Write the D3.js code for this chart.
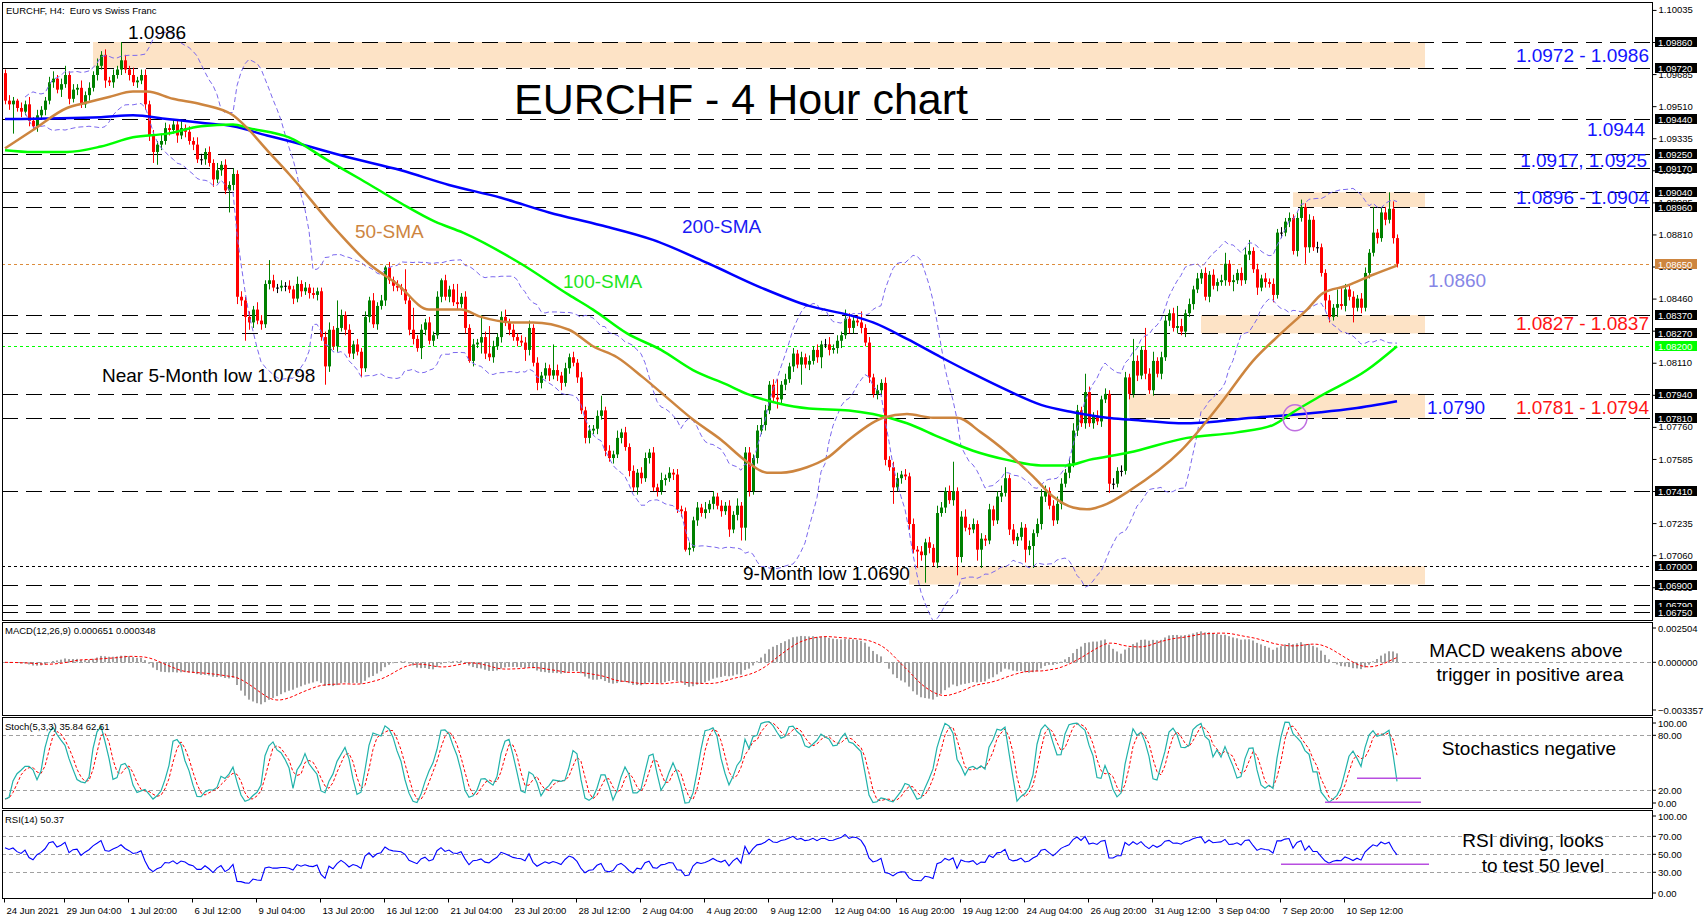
<!DOCTYPE html>
<html>
<head>
<meta charset="utf-8">
<script src="https://cdn.jsdelivr.net/npm/d3@7"></script>
<style>
  body { margin: 0; background: #fff; }
  svg { display: block; font-family: "Liberation Sans", Arial, sans-serif; }
</style>
</head>
<body>
<div id="chart"></div>
<script>
// ---------------- DATA ----------------
// EURCHF H4 closes, in 1/10000 (10954 = 1.0954); open of each bar = previous close
const firstOpen = 10969;
const closePips = [
  10954,10952,10954,10950,10948,10952,10943,10940,10946,10949,
  10954,10964,10966,10960,10963,10968,10955,10960,10961,10952,
  10957,10961,10968,10973,10979,10965,10964,10968,10971,10976,
  10971,10968,10964,10965,10968,10952,10935,10926,10930,10932,
  10939,10938,10941,10935,10939,10937,10932,10930,10922,10922,
  10926,10920,10911,10916,10919,10905,10908,10914,10847,10845,
  10836,10833,10840,10834,10832,10854,10856,10852,10852,10853,
  10853,10851,10846,10854,10850,10852,10849,10848,10850,10825,
  10809,10829,10820,10830,10837,10829,10816,10821,10817,10808,
  10836,10845,10832,10842,10845,10863,10856,10853,10852,10851,
  10845,10829,10824,10819,10829,10833,10823,10826,10847,10856,
  10847,10851,10844,10843,10847,10830,10812,10821,10822,10825,
  10816,10814,10820,10825,10836,10833,10829,10825,10823,10822,
  10818,10830,10811,10800,10804,10808,10804,10807,10804,10800,
  10808,10814,10811,10803,10785,10770,10774,10775,10782,10785,
  10763,10759,10761,10770,10773,10765,10752,10743,10751,10748,
  10759,10762,10743,10741,10747,10748,10751,10750,10731,10730,
  10709,10710,10725,10732,10729,10731,10734,10738,10733,10730,
  10733,10720,10728,10733,10721,10762,10741,10759,10774,10777,
  10785,10799,10792,10791,10799,10802,10809,10816,10810,10814,
  10810,10812,10818,10814,10821,10821,10818,10819,10823,10826,
  10835,10830,10834,10833,10830,10822,10803,10794,10796,10800,
  10758,10754,10743,10748,10750,10749,10723,10709,10708,10706,
  10713,10710,10702,10729,10732,10741,10736,10741,10705,10727,
  10721,10720,10723,10709,10715,10714,10731,10725,10738,10740,
  10748,10720,10714,10716,10721,10709,10711,10718,10723,10738,
  10741,10733,10725,10734,10745,10751,10756,10774,10785,10778,
  10795,10778,10782,10779,10791,10794,10745,10745,10752,10752,
  10803,10794,10812,10804,10818,10805,10796,10812,10805,10814,
  10834,10838,10830,10831,10828,10838,10843,10851,10857,10860,
  10847,10859,10853,10855,10856,10865,10855,10856,10860,10856,
  10870,10872,10862,10852,10857,10855,10854,10848,10882,10882,
  10888,10890,10872,10890,10896,10874,10889,10874,10874,10860,
  10845,10836,10841,10843,10842,10851,10847,10841,10846,10841,
  10860,10871,10882,10879,10893,10889,10895,10879,10865
];
// wick length above / below the body, in 1/10000
const wickUp = [
  2,3,2,1,3,2,4,2,3,2, 2,3,4,2,3,5,2,3,2,4, 2,3,2,4,2,3,2,3,2,10, 3,2,4,2,3,3,2,3,2,4,
  3,2,3,2,4,2,3,2,4,3, 2,3,2,4,2,3,2,3,2,3, 2,3,2,4,3,2,11,3,2,3, 2,3,2,4,2,3,2,3,2,2,
  3,4,2,15,3,2,3,2,3,2, 3,2,4,2,3,1,3,2,3,2, 11,3,12,2,3,2,3,2,3,1, 3,2,3,10,2,3,2,3,2,12,
  3,15,3,2,3,4,2,3,2,3, 3,4,2,3,2,3,2,14,3,2, 3,2,3,2,3,2,3,2,3,8, 2,3,2,4,2,3,2,3,2,3,
  3,2,3,2,4,2,3,2,3,2, 2,3,2,3,2,4,2,3,2,3, 2,3,2,4,2,3,3,2,3,4, 3,2,3,10,2,3,2,3,2,3,
  2,3,2,3,2,3,4,2,3,2, 5,3,2,3,6,2,3,2,3,2, 3,2,3,3,2,3,2,3,2,3, 2,3,2,4,3,2,3,16,2,3,
  4,2,3,2,3,2,3,2,3,4, 6,2,3,2,3,2,3,2,3,4, 3,2,3,4,3,2,3,4,3,2, 10,3,2,3,2,3,2,3,2,3,
  3,2,12,3,2,12,3,5,2,3, 3,2,3,11,4,2,3,2,3,2, 3,2,3,2,3,6,2,3,2,3, 4,6,2,3,2,3,2,3,2,3,
  2,3,2,3,4,2,3,2,3,2, 2,3,2,8,9,3,2,3,2,3, 3,2,14,2,3,3,9,4,2
];
const wickDn = [
  2,3,16,2,3,2,3,2,3,2, 3,2,3,2,4,2,3,2,3,2, 2,3,2,3,2,4,2,3,2,3, 2,3,2,3,2,3,3,6,7,3,
  2,3,2,4,2,3,2,3,2,3, 3,2,4,2,3,2,12,3,4,3, 13,4,3,2,3,2,3,2,3,2, 3,2,3,2,3,2,3,2,3,2,
  10,3,2,3,2,3,2,3,2,5, 2,3,2,3,2,3,2,3,2,3, 2,3,3,2,6,3,2,3,2,3, 2,3,2,3,2,3,1,3,2,6,
  3,2,3,2,3,2,3,2,3,2, 6,3,2,4,3,2,3,2,3,4, 2,3,2,3,2,3,3,2,3,2, 3,2,3,2,3,2,3,2,4,3,
  2,3,2,3,2,3,2,3,2,3, 1,3,2,3,2,3,2,3,2,3, 2,4,2,3,7,7,3,2,3,2, 3,2,3,5,2,3,2,3,2,11,
  2,3,2,3,6,2,3,2,3,4, 2,3,3,2,3,2,3,2,3,2, 3,2,9,2,3,2,3,2,9,3, 15,3,2,3,2,3,2,3,10,3,
  2,3,2,6,10,3,2,3,2,3, 2,3,2,3,2,7,3,12,2,3, 3,2,3,2,3,2,3,2,3,2, 3,2,3,2,3,2,5,3,2,3,
  2,3,2,3,2,3,2,3,2,3, 2,3,2,3,2,3,2,3,2,3, 2,3,2,3,2,3,2,5,2,3, 2,3,2,4,2,3,2,4,2,3,
  2,3,2,3,2,9,3,2,3,2, 5,3,2,5,2,3,2,8,2,3, 2,3,2,3,2,3,2,3,2
];

// moving averages: [bar index, price in 1/10000]
const sma50 = [[0,10928],[7,10938],[15.5,10950],[20.5,10953],[26,10956],[32,10959],[35.5,10959],[42,10955],[49,10952],[57,10946],[61,10938],[65.5,10927],[71,10914],[83,10883],[91,10865],[98,10854],[106,10840],[114,10840],[119,10836],[127,10833],[132,10833],[141,10829],[147,10820],[153,10814],[159.5,10803],[166,10791],[172,10780],[179,10769],[185.5,10757],[190.5,10751],[194,10751],[200.5,10754],[205.5,10759],[211,10769],[219.5,10781],[225.5,10783],[232,10781],[238,10781],[244,10773],[250.5,10762],[257,10749],[262,10738],[267,10732],[270.5,10731],[275.5,10734],[281,10741],[294,10763],[304,10789],[312,10812],[319,10827],[325.5,10840],[329.5,10849],[335.5,10853],[342,10859],[348,10864]];
const sma100 = [[0,10927],[7,10926],[15.5,10926],[24,10929],[32,10934],[40.5,10936],[49,10940],[57,10941],[61,10939],[71,10934],[81,10921],[89,10911],[99,10898],[107.5,10888],[114.5,10882],[129,10865],[141,10848],[147,10840],[155.5,10827],[164,10818],[172,10807],[180.5,10799],[185.5,10794],[193,10789],[201,10786],[211,10785],[217,10783],[225.5,10778],[234,10770],[242,10763],[250.5,10758],[259,10755],[265.5,10755],[271,10758],[281,10762],[295.5,10770],[308,10773],[317,10777],[322,10784],[329,10793],[340.5,10807],[348,10820]];
const sma200 = [[0,10944],[24,10945],[32,10946],[40.5,10944],[49,10942],[57,10940],[65.5,10935],[71,10932],[86,10923],[99,10916],[111,10908],[124,10901],[136,10893],[149,10886],[162,10878],[176,10865],[189,10852],[201,10842],[211,10837],[217,10833],[225.5,10824],[234,10814],[242,10805],[250.5,10796],[259,10788],[267,10784],[275.5,10781],[281,10780],[295.5,10778],[312,10781],[329,10784],[337,10786],[348,10790]];

// horizontal levels and zones
const dashLevels = [1.0986,1.0972,1.0944,1.0925,1.0917,1.0904,1.0896,1.0837,1.0827,1.0794,1.0781,1.0741,1.0690,1.0679,1.0675];
const dotLevels = [
  {v: 1.0700, color: "#000000"},
  {v: 1.0865, color: "#dc8c3c"},
  {v: 1.0820, color: "#00ff00"}
];
const zones = [
  {lo: 1.0972, hi: 1.0986, from: 22, to: 355},
  {lo: 1.0896, hi: 1.0904, from: 322, to: 355},
  {lo: 1.0827, hi: 1.0837, from: 299, to: 355},
  {lo: 1.0781, hi: 1.0794, from: 281, to: 355},
  {lo: 1.0690, hi: 1.0700, from: 226, to: 355}
];
const crossMark = [322.5, 1.0781];

const priceTicks = [1.10035,1.09860,1.09685,1.09510,1.09335,1.09160,1.08985,1.08810,1.08635,1.08460,1.08285,1.08110,1.07935,1.07760,1.07585,1.07410,1.07235,1.07060,1.06885];
const boxLevels = [1.0986,1.0972,1.0944,1.0925,1.0917,1.0904,1.0896,1.0837,1.0827,1.0794,1.0781,1.0741,1.0700,1.0690,1.0679,1.0675];
const colorBoxes = [{v: 1.0865, color: "#cd853f"}, {v: 1.0820, color: "#00ff00"}];

const xTickBars = [0,15,31,47,63,79,95,111,127,143,159,175,191,207,223,239,255,271,287,303,319,335];
const xTickLabels = ["24 Jun 2021","29 Jun 04:00","1 Jul 20:00","6 Jul 12:00","9 Jul 04:00","13 Jul 20:00","16 Jul 12:00","21 Jul 04:00","23 Jul 20:00","28 Jul 12:00","2 Aug 04:00","4 Aug 20:00","9 Aug 12:00","12 Aug 04:00","16 Aug 20:00","19 Aug 12:00","24 Aug 04:00","26 Aug 20:00","31 Aug 12:00","3 Sep 04:00","7 Sep 20:00","10 Sep 12:00"];

const macdTicks = [0.002504, 0, -0.003357];
const stochTicks = [100, 80, 20, 0];
const rsiTicks = [100, 70, 50, 30, 0];
const stochMarks = [{level: 33, from: 338, to: 354}, {level: 7, from: 330, to: 354}];
const rsiMarks = [{level: 39, from: 319, to: 356}];

// ---------------- DERIVED SERIES ----------------
const closes = closePips.map(v => v / 10000);
const opens = closes.map((c, i) => i === 0 ? firstOpen / 10000 : closes[i - 1]);
const highs = closes.map((c, i) => Math.max(opens[i], c) + wickUp[i] / 10000);
const lows = closes.map((c, i) => Math.min(opens[i], c) - wickDn[i] / 10000);
const bars = closes.map((c, i) => ({i, o: opens[i], h: highs[i], l: lows[i], c}));

function ema(arr, n) {
  const k = 2 / (n + 1), out = [];
  arr.forEach((v, i) => out.push(i === 0 ? v : v * k + out[i - 1] * (1 - k)));
  return out;
}
function sma(arr, n) {
  return arr.map((v, i) => d3.mean(arr.slice(Math.max(0, i - n + 1), i + 1)));
}

// bollinger 20,2
const bands = [];
closes.forEach((c, i) => {
  if (i < 5) return;
  const win = closes.slice(Math.max(0, i - 19), i + 1);
  const m = d3.mean(win);
  const sd = Math.sqrt(d3.mean(win, v => (v - m) * (v - m)));
  bands.push({i, up: m + 2 * sd, dn: m - 2 * sd});
});

// MACD 12,26,9
const e12 = ema(closes, 12), e26 = ema(closes, 26);
const macd = closes.map((c, i) => e12[i] - e26[i]);
const macdSig = sma(macd, 9);

// Stochastic 5,3,3
const ll = lows.map((v, i) => d3.min(lows.slice(Math.max(0, i - 4), i + 1)));
const hh = highs.map((v, i) => d3.max(highs.slice(Math.max(0, i - 4), i + 1)));
const stochK = closes.map((c, i) => {
  let num = 0, den = 0;
  for (let j = Math.max(0, i - 2); j <= i; j++) { num += closes[j] - ll[j]; den += hh[j] - ll[j]; }
  return den ? 100 * num / den : 50;
});
const stochD = sma(stochK, 3);

// RSI 14 (Wilder), seeded with the average move of the first 14 bars
const firstMoves = d3.range(1, 15).map(i => closes[i] - closes[i - 1]);
let ag = d3.mean(firstMoves, c => Math.max(c, 0));
let al = d3.mean(firstMoves, c => Math.max(-c, 0));
const rsi = [100 - 100 / (1 + ag / al)];
for (let i = 1; i < closes.length; i++) {
  const ch = closes[i] - closes[i - 1];
  ag = (ag * 13 + Math.max(ch, 0)) / 14;
  al = (al * 13 + Math.max(-ch, 0)) / 14;
  rsi.push(al === 0 ? 100 : 100 - 100 / (1 + ag / al));
}

// ---------------- LAYOUT ----------------
const W = 1706, H = 919;
const xL = 2, xR = 1652;
const P = {
  main:  {top: 2,   bottom: 620},
  macd:  {top: 622, bottom: 715},
  stoch: {top: 717, bottom: 808},
  rsi:   {top: 810, bottom: 898}
};

const x = d3.scaleLinear().domain([0, closes.length - 1]).range([5, 1397]);
const y = d3.scaleLinear().domain([1.0675, 1.0986]).range([612, 42]);
const yMacd = d3.scaleLinear().domain([-0.003357, 0.002504]).range([711, 626]);
const yStoch = d3.scaleLinear().domain([0, 100]).range([808.6, 717]);
const yRsi = d3.scaleLinear().domain([0, 100]).range([899.3, 809.3]);
const px = i => Math.round(x(i));

const svg = d3.select("#chart").append("svg")
  .attr("width", W).attr("height", H)
  .attr("viewBox", `0 0 ${W} ${H}`);
svg.append("rect").attr("width", W).attr("height", H).attr("fill", "#fff");

const defs = svg.append("defs");
Object.entries(P).forEach(([k, p]) => {
  defs.append("clipPath").attr("id", "clip-" + k)
    .append("rect").attr("x", xL).attr("y", p.top).attr("width", xR - xL).attr("height", p.bottom - p.top);
});

const gMain = svg.append("g").attr("clip-path", "url(#clip-main)");

// zones
gMain.selectAll(".zone").data(zones).join("rect")
  .attr("x", d => x(d.from)).attr("width", d => x(d.to) - x(d.from))
  .attr("y", d => y(d.hi)).attr("height", d => y(d.lo) - y(d.hi))
  .attr("fill", "#fde3c6");

// level lines
gMain.selectAll(".lvl").data(dashLevels).join("line")
  .attr("x1", xL).attr("x2", xR)
  .attr("y1", d => Math.round(y(d)) + 0.5).attr("y2", d => Math.round(y(d)) + 0.5)
  .attr("stroke", "#000").attr("stroke-width", 1.2).attr("stroke-dasharray", "16,8");
gMain.selectAll(".dot").data(dotLevels).join("line")
  .attr("x1", xL).attr("x2", xR)
  .attr("y1", d => Math.round(y(d.v)) + 0.5).attr("y2", d => Math.round(y(d.v)) + 0.5)
  .attr("stroke", d => d.color).attr("stroke-width", 1).attr("stroke-dasharray", "3,3");

// candles
const cg = gMain.selectAll(".candle").data(bars).join("g");
const candleColor = d => d.c > d.o ? "#008000" : (d.c < d.o ? "#ff0000" : "#000000");
cg.append("line")
  .attr("x1", d => px(d.i) + 0.5).attr("x2", d => px(d.i) + 0.5)
  .attr("y1", d => y(d.h)).attr("y2", d => y(d.l))
  .attr("stroke", candleColor).attr("stroke-width", 1);
cg.append("rect")
  .attr("x", d => px(d.i) - 1).attr("width", 3)
  .attr("y", d => y(Math.max(d.o, d.c)))
  .attr("height", d => Math.max(1, Math.abs(y(d.o) - y(d.c))))
  .attr("fill", candleColor);

// bollinger bands
["up", "dn"].forEach(k => {
  gMain.append("path").datum(bands)
    .attr("d", d3.line().x(d => x(d.i)).y(d => y(d[k])))
    .attr("fill", "none").attr("stroke", "#7b68ee").attr("stroke-width", 1)
    .attr("stroke-dasharray", "5,3");
});

// moving averages
const maLine = d3.line().x(d => x(d[0])).y(d => y(d[1] / 10000)).curve(d3.curveMonotoneX);
[[sma200, "#0000ff"], [sma100, "#00ff00"], [sma50, "#cd853f"]].forEach(([pts, col]) => {
  gMain.append("path").datum(pts).attr("d", maLine)
    .attr("fill", "none").attr("stroke", col).attr("stroke-width", 2.5);
});

// crossover circle
gMain.append("ellipse")
  .attr("cx", x(crossMark[0])).attr("cy", y(crossMark[1]))
  .attr("rx", 12).attr("ry", 13)
  .attr("fill", "none").attr("stroke", "#bf6fe0").attr("stroke-width", 1.5);

// ---------------- MACD ----------------
const gMacd = svg.append("g").attr("clip-path", "url(#clip-macd)");
gMacd.append("line").attr("x1", xL).attr("x2", xR)
  .attr("y1", Math.round(yMacd(0)) + 0.5).attr("y2", Math.round(yMacd(0)) + 0.5)
  .attr("stroke", "#a0a0a0").attr("stroke-dasharray", "4,3");
gMacd.selectAll(".hist").data(macd).join("rect")
  .attr("x", (d, i) => px(i) - 1).attr("width", 2)
  .attr("y", d => Math.min(yMacd(d), yMacd(0)))
  .attr("height", d => Math.abs(yMacd(d) - yMacd(0)))
  .attr("fill", "#a0a0a0");
gMacd.append("path").datum(macdSig)
  .attr("d", d3.line().x((d, i) => x(i)).y(d => yMacd(d)))
  .attr("fill", "none").attr("stroke", "#ff0000").attr("stroke-width", 1).attr("stroke-dasharray", "3,2");

// ---------------- STOCH ----------------
const gSt = svg.append("g").attr("clip-path", "url(#clip-stoch)");
[80, 20].forEach(v => gSt.append("line").attr("x1", xL).attr("x2", xR)
  .attr("y1", Math.round(yStoch(v)) + 0.5).attr("y2", Math.round(yStoch(v)) + 0.5)
  .attr("stroke", "#a0a0a0").attr("stroke-dasharray", "4,3"));
gSt.append("path").datum(stochD)
  .attr("d", d3.line().x((d, i) => x(i)).y(d => yStoch(d)))
  .attr("fill", "none").attr("stroke", "#ff0000").attr("stroke-width", 1).attr("stroke-dasharray", "3,2");
gSt.append("path").datum(stochK)
  .attr("d", d3.line().x((d, i) => x(i)).y(d => yStoch(d)))
  .attr("fill", "none").attr("stroke", "#20b2aa").attr("stroke-width", 1.2);
gSt.selectAll(".mk").data(stochMarks).join("line")
  .attr("x1", d => x(d.from)).attr("x2", d => x(d.to))
  .attr("y1", d => yStoch(d.level)).attr("y2", d => yStoch(d.level))
  .attr("stroke", "#b84ee0").attr("stroke-width", 1.5);

// ---------------- RSI ----------------
const gR = svg.append("g").attr("clip-path", "url(#clip-rsi)");
[70, 50, 30].forEach(v => gR.append("line").attr("x1", xL).attr("x2", xR)
  .attr("y1", Math.round(yRsi(v)) + 0.5).attr("y2", Math.round(yRsi(v)) + 0.5)
  .attr("stroke", "#a0a0a0").attr("stroke-dasharray", "4,3"));
gR.append("path").datum(rsi)
  .attr("d", d3.line().x((d, i) => x(i)).y(d => yRsi(d)))
  .attr("fill", "none").attr("stroke", "#0000ff").attr("stroke-width", 1.1);
gR.selectAll(".mk").data(rsiMarks).join("line")
  .attr("x1", d => x(d.from)).attr("x2", d => x(d.to))
  .attr("y1", d => yRsi(d.level)).attr("y2", d => yRsi(d.level))
  .attr("stroke", "#b84ee0").attr("stroke-width", 1.5);

// ---------------- FRAMES ----------------
Object.values(P).forEach(p => {
  svg.append("rect").attr("x", xL + 0.5).attr("y", p.top + 0.5)
    .attr("width", xR - xL).attr("height", p.bottom - p.top)
    .attr("fill", "none").attr("stroke", "#000").attr("stroke-width", 1);
});

// ---------------- AXES ----------------
const smallFont = "9.5px";
const yAxis = svg.append("g").attr("transform", `translate(${xR + 0.5},0)`)
  .call(d3.axisRight(y).tickValues(priceTicks).tickSize(4).tickPadding(2).tickFormat(d3.format(".5f")));
yAxis.select(".domain").remove();
yAxis.selectAll("text").style("font-size", smallFont).attr("fill", "#000");

boxLevels.forEach(v => {
  const yy = Math.round(y(v));
  svg.append("rect").attr("x", 1655).attr("y", yy - 5).attr("width", 42).attr("height", 10).attr("fill", "#000");
  svg.append("text").attr("x", 1658).attr("y", yy + 3.5).attr("fill", "#fff")
    .style("font-size", smallFont).text(v.toFixed(5));
});
colorBoxes.forEach(b => {
  const yy = Math.round(y(b.v));
  svg.append("rect").attr("x", 1655).attr("y", yy - 5).attr("width", 42).attr("height", 10).attr("fill", b.color);
  svg.append("text").attr("x", 1658).attr("y", yy + 3.5).attr("fill", "#fff")
    .style("font-size", smallFont).text(b.v.toFixed(5));
});

function sideLabels(ticks, scale, p, fmt) {
  ticks.forEach(v => {
    const yy = Math.max(p.top + 6, Math.min(p.bottom - 5, scale(v)));
    svg.append("line").attr("x1", xR).attr("x2", xR + 4).attr("y1", yy).attr("y2", yy).attr("stroke", "#000");
    svg.append("text").attr("x", xR + 6).attr("y", yy + 3.5).style("font-size", smallFont).text(fmt(v));
  });
}
sideLabels(macdTicks, yMacd, P.macd, d3.format(".6f"));
sideLabels(stochTicks, yStoch, P.stoch, d3.format(".2f"));
sideLabels(rsiTicks, yRsi, P.rsi, d3.format(".2f"));

// time axis
const xAxis = svg.append("g").attr("transform", `translate(0,${P.rsi.bottom + 0.5})`)
  .call(d3.axisBottom(x).tickValues(xTickBars).tickSize(4).tickFormat((d, i) => xTickLabels[i]));
xAxis.select(".domain").remove();
xAxis.selectAll(".tick line").attr("transform", "translate(-1,0)");
xAxis.selectAll("text").style("font-size", smallFont).attr("text-anchor", "start")
  .attr("x", 1).attr("dy", "0.9em");

// ---------------- TEXT ----------------
svg.append("text").attr("x", 6).attr("y", 14).style("font-size", smallFont)
  .style("white-space", "pre").text("EURCHF, H4:  Euro vs Swiss Franc");
svg.append("text").attr("x", 5).attr("y", 634).style("font-size", smallFont).text("MACD(12,26,9) 0.000651 0.000348");
svg.append("text").attr("x", 5).attr("y", 730).style("font-size", smallFont).text("Stoch(5,3,3) 35.84 62.61");
svg.append("text").attr("x", 5).attr("y", 823).style("font-size", smallFont).text("RSI(14) 50.37");

svg.append("text").attr("x", 741).attr("y", 114).attr("text-anchor", "middle")
  .style("font-size", "43px").attr("fill", "#000").text("EURCHF - 4 Hour chart");

const labels = [
  {t: "1.0986", x: 128, y: 39, a: "start", c: "#000"},
  {t: "50-SMA", x: 355, y: 238, a: "start", c: "#cd853f"},
  {t: "200-SMA", x: 682, y: 233, a: "start", c: "#1a1af5"},
  {t: "100-SMA", x: 563, y: 288, a: "start", c: "#1ee61e"},
  {t: "Near 5-Month low 1.0798", x: 102, y: 382, a: "start", c: "#000"},
  {t: "9-Month low 1.0690", x: 743, y: 580, a: "start", c: "#000"},
  {t: "1.0972 - 1.0986", x: 1649, y: 62, a: "end", c: "#1414ff"},
  {t: "1.0944", x: 1645, y: 136, a: "end", c: "#1414ff"},
  {t: "1.0917, 1.0925", x: 1647, y: 167, a: "end", c: "#1414ff"},
  {t: "1.0896 - 1.0904", x: 1649, y: 204, a: "end", c: "#1414ff"},
  {t: "1.0860", x: 1428, y: 287, a: "start", c: "#8686e6"},
  {t: "1.0827 - 1.0837", x: 1649, y: 330, a: "end", c: "#ff1414"},
  {t: "1.0790", x: 1427, y: 414, a: "start", c: "#1414ff"},
  {t: "1.0781 - 1.0794", x: 1649, y: 414, a: "end", c: "#ff1414"},
  {t: "MACD weakens above", x: 1526, y: 657, a: "middle", c: "#000"},
  {t: "trigger in positive area", x: 1530, y: 681, a: "middle", c: "#000"},
  {t: "Stochastics negative", x: 1529, y: 755, a: "middle", c: "#000"},
  {t: "RSI diving, looks", x: 1533, y: 847, a: "middle", c: "#000"},
  {t: "to test 50 level", x: 1543, y: 872, a: "middle", c: "#000"}
];
svg.selectAll(".lbl").data(labels).join("text")
  .attr("x", d => d.x).attr("y", d => d.y).attr("text-anchor", d => d.a)
  .attr("fill", d => d.c).style("font-size", "19px").text(d => d.t);
</script>
</body>
</html>
